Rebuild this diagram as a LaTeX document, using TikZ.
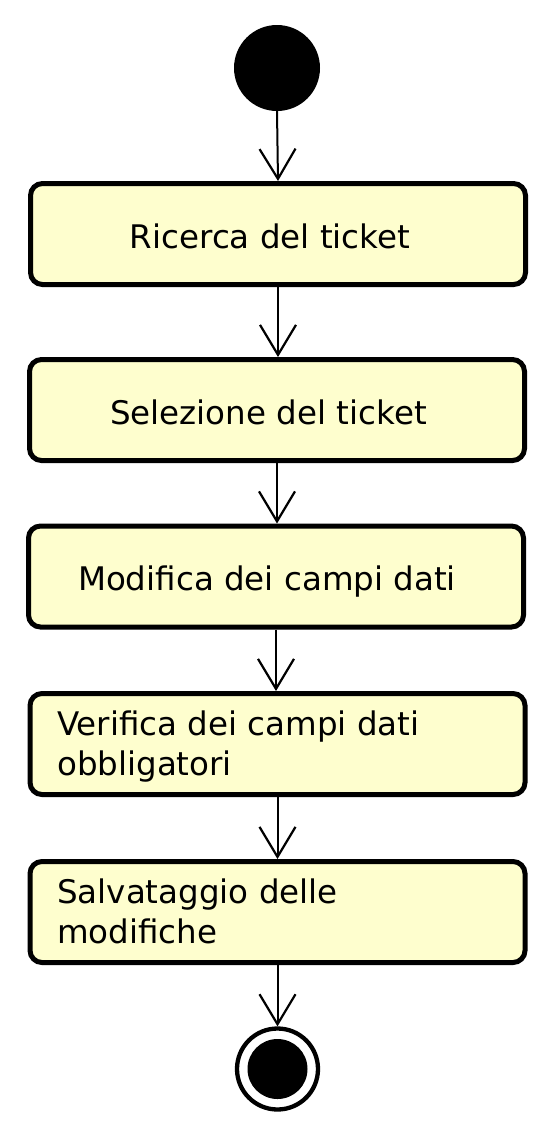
\documentclass[tikz,border=0pt]{standalone}
\usepackage{fontspec}
\setmainfont{DejaVu Sans}
\usetikzlibrary{arrows.meta}
\definecolor{actfill}{HTML}{FEFECE}
\tikzset{
  actbox/.style={draw=black, line width=5pt, fill=actfill, rounded corners=12pt,
    minimum width=495pt, minimum height=101pt, inner sep=0pt},
  lbl/.style={font=\fontsize{32.5}{38}\selectfont, inner sep=0pt},
  flow/.style={line width=2pt, -{Straight Barb[length=30pt,width=36pt,line width=2.2pt]}},
}
\begin{document}
\begin{tikzpicture}[x=1pt,y=-1pt]
\useasboundingbox (0,0) rectangle (555,1136);
\node[circle, fill=black, minimum size=86pt, inner sep=0pt] (start) at (277,68) {};
\node[actbox] (b1) at (278,234) {};
\node[lbl, anchor=base] (t1) at (270,248) {Ricerca del ticket};
\node[actbox] (b2) at (277,410) {};
\node[lbl, anchor=base] (t2) at (268.5,424) {Selezione del ticket};
\node[actbox] (b3) at (276,576.5) {};
\node[lbl, anchor=base] (t3) at (267,590) {Modifica dei campi dati};
\node[actbox] (b4) at (277.5,744) {};
\node[lbl, anchor=base west] (t4a) at (57,735) {Verifica dei campi dati};
\node[lbl, anchor=base west] (t4b) at (57,775) {obbligatori};
\node[actbox] (b5) at (277.5,912) {};
\node[lbl, anchor=base west] (t5a) at (57,903) {Salvataggio delle};
\node[lbl, anchor=base west] (t5b) at (57,943) {modifiche};
\node[circle, draw=black, line width=4.3pt, fill=white, minimum size=81pt, inner sep=0pt] (stop) at (277.5,1069) {};
\node[circle, fill=black, minimum size=60pt, inner sep=0pt] (stopin) at (277.5,1069) {};
\draw[flow] (start.south) -- (b1.north);
\draw[flow] (b1.south) -- (b1.south |- b2.north);
\draw[flow] (b2.south) -- (b2.south |- b3.north);
\draw[flow] (b3.south) -- (b3.south |- b4.north);
\draw[flow] (b4.south) -- (b5.north);
\draw[flow] (b5.south) -- (stop.north);
\end{tikzpicture}
\end{document}
